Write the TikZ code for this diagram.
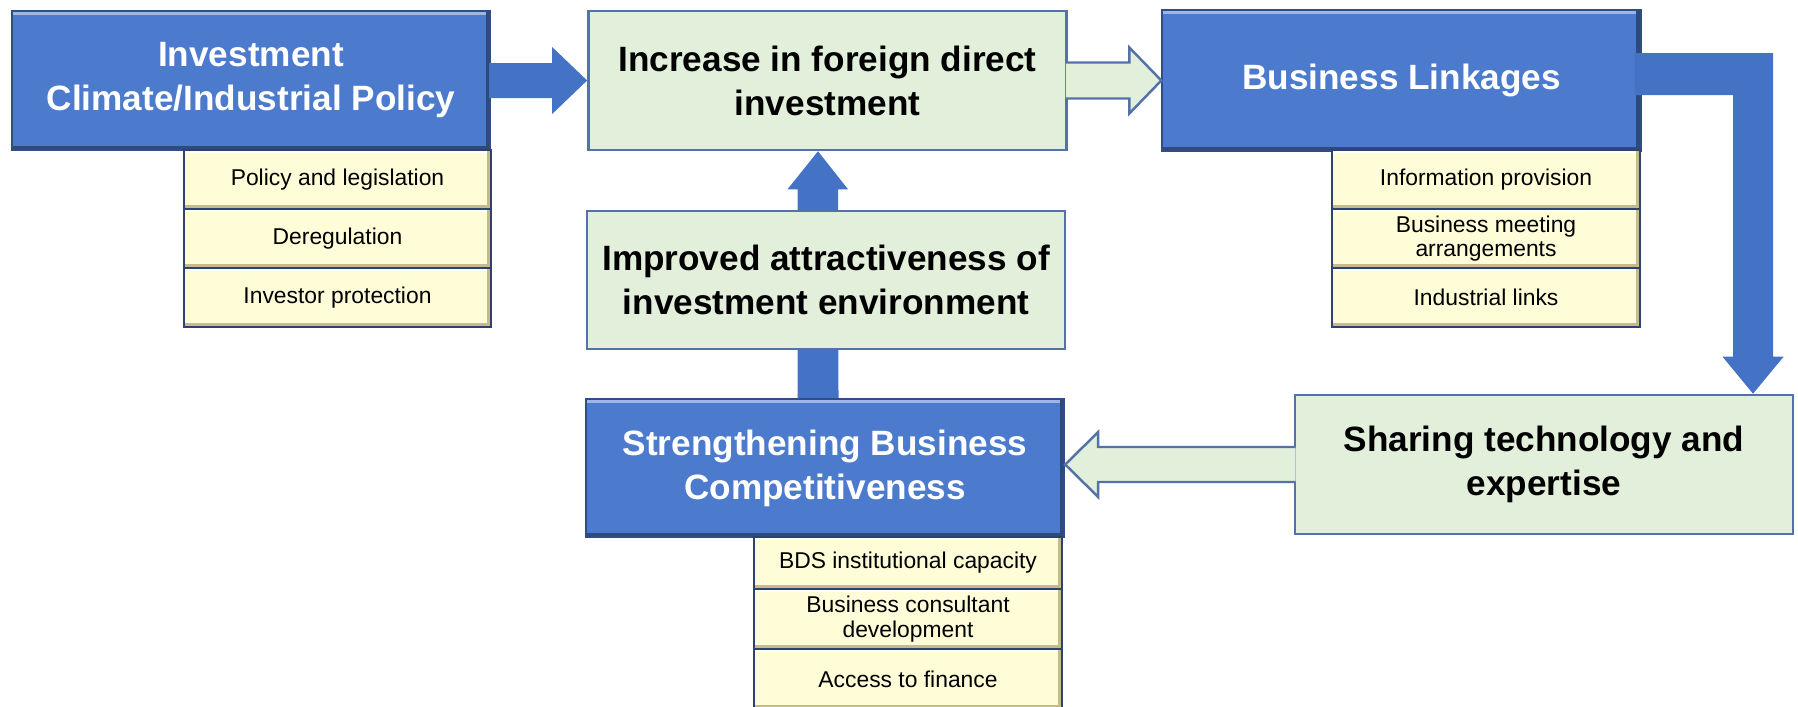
\documentclass[tikz,border=0pt]{standalone}
\usepackage{fontspec}
\setmainfont{Liberation Sans}
\usepackage{tikz}
\usetikzlibrary{calc,backgrounds}
\definecolor{boxblue}{RGB}{76,123,206}
\definecolor{boxedge}{RGB}{47,77,135}
\definecolor{arrowblue}{RGB}{68,114,196}
\definecolor{paleGreen}{RGB}{226,239,218}
\definecolor{greenedge}{RGB}{84,113,170}
\definecolor{subyellow}{RGB}{255,253,216}
\definecolor{subshade}{RGB}{196,186,138}
\definecolor{subedge}{RGB}{45,66,110}
\newcommand{\bigtxt}{\fontsize{10}{12.5}\selectfont\bfseries}
\newcommand{\smalltxt}{\fontsize{6.5}{6.9}\selectfont}
\tikzstyle{bigbox}=[minimum width=4.78cm, minimum height=1.39cm, align=center, inner sep=0pt, font=\bigtxt]
\tikzstyle{bluebox}=[bigbox, draw=boxedge, line width=0.6pt, fill=boxblue, text=white, path picture={
	\draw[line width=0.8mm, boxblue!55!white] (path picture bounding box.north west) -- (path picture bounding box.north east);
	\draw[line width=0.9mm, boxblue!60!black] (path picture bounding box.north east) -- (path picture bounding box.south east) -- (path picture bounding box.south west);}]
\tikzstyle{greenbox}=[bigbox, draw=greenedge, line width=0.7pt, fill=paleGreen]
\tikzstyle{subbox}=[minimum width=3.07cm, minimum height=0.59cm, align=center, inner sep=0pt, font=\smalltxt, draw=subedge, line width=0.6pt, fill=subyellow, path picture={
	\draw[line width=0.6mm, white] (path picture bounding box.north west) -- (path picture bounding box.north east);
	\draw[line width=0.8mm, subshade] (path picture bounding box.north east) -- (path picture bounding box.south east) -- (path picture bounding box.south west);}]
\tikzstyle{blockarrow}=[fill=arrowblue]
\tikzstyle{hollowarrow}=[draw=greenedge, line width=0.7pt, fill=paleGreen, line join=miter]

\begin{document}
\begin{tikzpicture}[x=0.01cm, y=-0.01cm]
	\useasboundingbox (0,0) rectangle (1798,706);
	\begin{scope}
		\node (0) at (251, 80.5)[bluebox] {Investment\\Climate/Industrial Policy};
		\node (1) at (827.5, 80.5)[greenbox] {Increase in foreign direct\\investment};
		\node (2) at (1401.5, 80.5)[bluebox, minimum height=1.41cm] {Business Linkages};
		\node (3) at (1544, 464.5)[greenbox, minimum width=4.98cm] {Sharing technology and\\expertise};
		\node (4) at (825, 468)[bluebox, minimum height=1.38cm] {Strengthening Business\\Competitiveness};
		\node (5) at (826, 280)[greenbox, minimum height=1.38cm] {Improved attractiveness of\\investment environment};

		\node (0a) at (337.5, 179.5)[subbox] {Policy and legislation};
		\node (0b) at (337.5, 238.5)[subbox] {Deregulation};
		\node (0c) at (337.5, 297.5)[subbox] {Investor protection};

		\node (2a) at (1486, 179.5)[subbox, minimum width=3.08cm] {Information provision};
		\node (2b) at (1486, 238.5)[subbox, minimum width=3.08cm] {Business meeting\\arrangements};
		\node (2c) at (1486, 297.5)[subbox, minimum width=3.08cm] {Industrial links};

		\node (4a) at (908, 563)[subbox, minimum width=3.08cm, minimum height=0.52cm] {BDS institutional capacity};
		\node (4b) at (908, 619)[subbox, minimum width=3.08cm, minimum height=0.6cm] {Business consultant\\development};
		\node (4c) at (908, 679)[subbox, minimum width=3.08cm, minimum height=0.6cm] {Access to finance};

		\coordinate (up) at (818, 0);
		\coordinate (elb) at (1753, 0);
		\coordinate (ubase) at (4.north -| up);
		\coordinate (utip) at (1.south -| up);
		\coordinate (etip) at (3.north -| elb);
		\coordinate (ecrn) at (2.east -| elb);
		\coordinate (ltip) at (4.east |- 3.west);
	\end{scope}
	\begin{scope}
		\fill[blockarrow] ($(0.east)+(-2,-17.5)$) -- ($(1.west)+(-35,-17.5)$) -- ++(0,-16) -- (1.west) -- ++(-35,33.5) -- ++(0,-16) -- ($(0.east)+(-2,17.5)$) -- cycle;
		\filldraw[hollowarrow] ($(1.east)+(-2,-18)$) -- ($(2.west)+(-32,-18)$) -- ++(0,-15) -- (2.west) -- ++(-32,33) -- ++(0,-15) -- ($(1.east)+(-2,18)$);
		\fill[blockarrow] ($(2.east)+(-7,-27.5)$) -- ($(ecrn)+(20,-27.5)$) -- ($(etip)+(20,-37)$) -- ++(10.5,0) -- (etip) -- ++(-30.5,-37) -- ++(10.5,0) -- ($(ecrn)+(-20,14.5)$) -- ($(2.east)+(-7,14.5)$) -- cycle;
		\filldraw[hollowarrow] ($(3.west)+(2,-17.5)$) -- ($(ltip)+(33,-17.5)$) -- ++(0,-15) -- (ltip) -- ++(33,32.5) -- ++(0,-15) -- ($(3.west)+(2,17.5)$);
	\end{scope}
	\begin{scope}[on background layer]
		\fill[blockarrow] ($(ubase)+(-20.5,0)$) -- ($(utip)+(-20.5,38)$) -- ++(-10,0) -- (utip) -- ++(30,38) -- ++(-10,0) -- ($(ubase)+(20.5,0)$) -- cycle;
	\end{scope}
\end{tikzpicture}
\end{document}
